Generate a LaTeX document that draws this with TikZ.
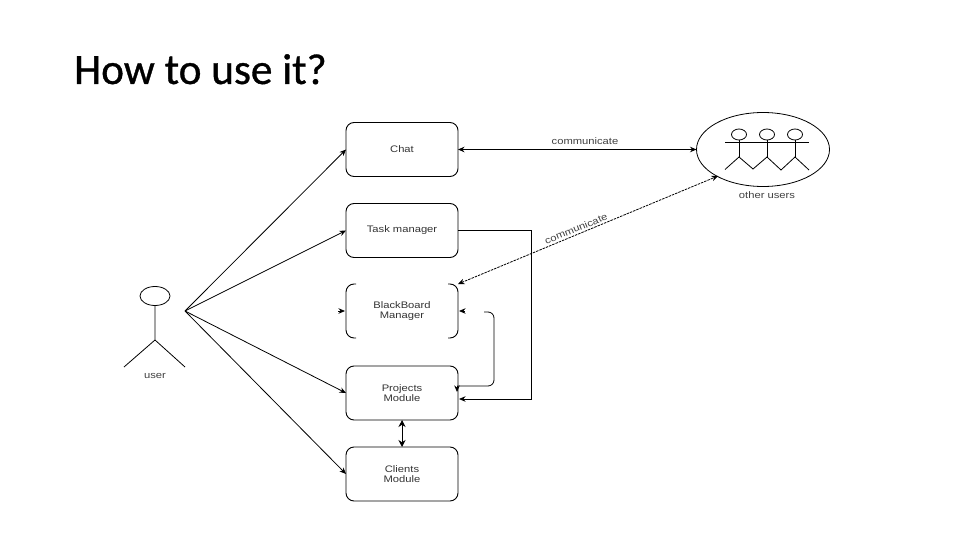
\documentclass[tikz,border=0pt]{standalone}
\usepackage{fontspec}
\setmainfont{Liberation Sans}[FakeStretch=1.18]
\newfontfamily\titlefont{Carlito}
\usetikzlibrary{arrows.meta,shapes.geometric}
\tikzset{
  x=1pt,y=-1pt,
  modbox/.style={draw=black,line width=0.9pt,rounded corners=8pt,minimum width=112pt,minimum height=54pt,inner sep=0pt,outer sep=0pt,align=center,font=\fontsize{9.5}{9.6}\selectfont,text=black!80},
  openbox/.style={modbox,draw=none},
  conn/.style={line width=0.8pt,-{Stealth[length=6.5pt,width=5.5pt]}},
  biconn/.style={line width=0.8pt,{Stealth[length=6.5pt,width=5.5pt]}-{Stealth[length=6.5pt,width=5.5pt]}},
  dashconn/.style={biconn,dash pattern=on 2.5pt off 1pt},
  lab/.style={font=\fontsize{9.5}{10}\selectfont,text=black!75,inner sep=0pt},
  stick/.style={line width=0.8pt,draw=black},
  headshape/.style={ellipse,draw=black,line width=0.8pt,inner sep=0pt,outer sep=0pt},
}
\begin{document}
\begin{tikzpicture}
\useasboundingbox (0,0) rectangle (960,540);
\node[anchor=base west,inner sep=0pt,font=\titlefont\fontsize{43.3}{44}\selectfont] (title) at (74,84) {\addfontfeatures{FakeBold=0.8}How to use it?};

\node[modbox] (chat) at (402,149.5) {Chat};
\node[modbox] (task) at (402,230.5) {Task manager};
\node[openbox] (bb) at (402,311) {BlackBoard\\Manager};
\node[modbox] (proj) at (402,393) {Projects\\Module};
\node[modbox] (cli) at (402,474) {Clients\\Module};

\draw[line width=0.9pt,rounded corners=8pt] ([xshift=10pt]bb.north west) -- (bb.north west) -- (bb.south west) -- ([xshift=10pt]bb.south west);
\draw[line width=0.9pt,rounded corners=8pt] ([xshift=-10pt]bb.north east) -- (bb.north east) -- (bb.south east) -- ([xshift=-10pt]bb.south east);

% user
\node[headshape,minimum width=30pt,minimum height=19pt] (uhead) at (155,296) {};
\coordinate (uhip) at (155,340);
\coordinate (ulegl) at (124,367);
\coordinate (ulegr) at (185,367);
\draw[stick] (uhead.south) -- (uhip) (ulegl) -- (uhip) -- (ulegr);
\node[lab] (ulabel) at (155,375.5) {user};
\coordinate (uhand) at (185,311);

% other users
\node[ellipse,draw=black,line width=0.8pt,minimum width=133pt,minimum height=74pt,inner sep=0pt,outer sep=0pt] (others) at (763,149.5) {};
\node[lab] (olabel) at (767,195) {other users};
\node[headshape,minimum width=15pt,minimum height=11pt] (h1) at (739,134.5) {};
\node[headshape,minimum width=15pt,minimum height=11pt] (h2) at (767,134.5) {};
\node[headshape,minimum width=15pt,minimum height=11pt] (h3) at (795,134.5) {};
\coordinate (a1) at (725,142);
\coordinate (a2) at (809,142);
\coordinate (b1) at (739,157);
\coordinate (b2) at (767,157);
\coordinate (b3) at (795,157);
\draw[stick] (a1) -- (a2) (h1.south) -- (b1) (h2.south) -- (b2) (h3.south) -- (b3);
\draw[stick] (725,169.5) -- (b1) -- (753,169) -- (b2) -- (781,170) -- (b3) -- (809,170);

% user connectors
\draw[conn] (uhand) -- (chat.west);
\draw[conn] (uhand) -- (task.west);
\draw[conn] (uhand) -- (proj.west);
\draw[conn] (uhand) -- (cli.west);

% stubs on the blackboard box
\coordinate (bbl) at (338,311);
\coordinate (bbr) at (465,311);
\draw[conn] (bbl) -- ([xshift=-1pt]bb.west);
\draw[conn] (bbr) -- ([xshift=1pt]bb.east);

% chat - others
\draw[biconn] (chat.east) -- (others.west);
\node[lab] (clabeltop) at (585,141.5) {communicate};

% blackboard - others
\coordinate (otherlow) at (718,176);
\draw[dashconn] (bb.north east) -- (otherlow);
\node[lab,rotate=22] (clabel) at (576,228.5) {communicate};

% task to projects
\coordinate (tp1) at (531,230.5);
\coordinate (tp2) at (531,399);
\coordinate (tp3) at (459,399);
\draw[conn] (task.east) -- (tp1) -- (tp2) -- (tp3);

% loop from blackboard to projects
\coordinate (lp0) at (484,312);
\coordinate (lp1) at (494,312);
\coordinate (lp2) at (494,386);
\coordinate (lp3) at (457,386);
\coordinate (lp4) at (457,392);
\draw[line width=0.8pt,rounded corners=6pt] (lp0) -- (lp1) -- (lp2) -- (lp3);
\draw[line width=0.8pt,-{Stealth[length=6.5pt,width=5.5pt]}] (lp3) -- (lp4);

% projects - clients
\draw[line width=0.9pt,{Stealth[length=7pt,width=7pt]}-{Stealth[length=7pt,width=7pt]}] (proj.south) -- (cli.north);
\end{tikzpicture}
\end{document}
